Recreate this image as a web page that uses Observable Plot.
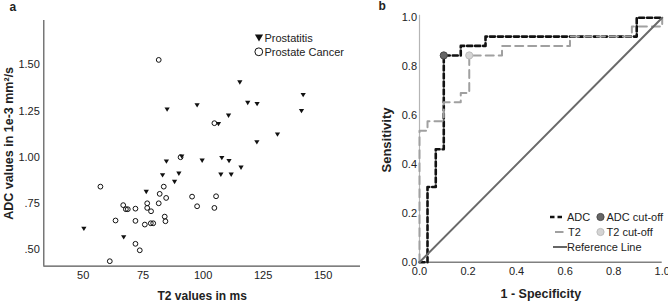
<!DOCTYPE html>
<html><head><meta charset="utf-8">
<script src="https://cdn.jsdelivr.net/npm/d3@7"></script>
<script src="https://cdn.jsdelivr.net/npm/@observablehq/plot@0.6"></script>
<style>
body{margin:0;background:#fff;}
#wrap{position:relative;width:668px;height:302px;overflow:hidden;font-family:"Liberation Sans",Arial,sans-serif;}
#wrap svg{position:absolute;top:0;overflow:visible;}
</style></head><body><div id="wrap"></div>
<script>
// ---------- Panel a: scatter ----------
const cancerT2  = [81.5,57.2,104.7,90.6,83.6,81.9,76.7,81.5,84.6,95.4,105.4,97.5,104.7,66.7,67.8,68.6,71.8,76.7,78.3,63.5,71.8,75.7,78.2,79.2,84.0,84.3,71.8,73.6,61.1];
const cancerADC = [1.526,0.841,1.184,1.000,0.841,0.802,0.751,0.751,0.780,0.787,0.789,0.735,0.726,0.741,0.719,0.719,0.722,0.726,0.708,0.658,0.656,0.636,0.643,0.643,0.679,0.654,0.532,0.497,0.438];
const prostatitisT2  = [115.3,141.7,85.0,97.5,118.6,122.5,110.6,141.0,106.4,131.0,122.4,91.1,99.6,107.8,110.8,84.7,115.8,83.1,89.9,107.4,111.7,88.1,76.3,50.3,66.9];
const prostatitisADC = [1.405,1.337,1.258,1.281,1.294,1.288,1.225,1.250,1.180,1.123,1.081,1.004,0.982,0.996,0.980,0.977,0.944,0.903,0.912,0.906,0.906,0.867,0.813,0.614,0.568];
const groupNames = ["Prostatitis","Prostate Cancer"];
const t2Domain = [33.6, 165.6];
const adcDomain = [0.411, 1.739];
const t2Ticks = [50,75,100,125,150];
const adcTicks = [0.5,0.75,1.0,1.25,1.5];
const adcTickLabels = [".50",".75","1.00","1.25","1.50"];

// ---------- Panel b: ROC ----------
const adcFPR = [0,0.033,0.033,0.067,0.067,0.1,0.1,0.17,0.17,0.272,0.272,0.895,0.895,1.0];
const adcTPR = [0,0,0.308,0.308,0.462,0.462,0.846,0.846,0.885,0.885,0.923,0.923,1.0,1.0];
const t2FPR = [0,0,0.033,0.033,0.1,0.1,0.17,0.17,0.205,0.205,0.34,0.34,0.62,0.62,0.875,0.875,1.0,1.0];
const t2TPR = [0,0.538,0.538,0.577,0.577,0.654,0.654,0.692,0.692,0.846,0.846,0.885,0.885,0.923,0.923,0.964,0.964,1.0];
const refFPR = [0,1];
const refTPR = [0,1];
const cutoffFPR = [0.1,0.205];
const cutoffTPR = [0.846,0.846];
const rocTicks = [0,0.2,0.4,0.6,0.8,1.0];
const rocLegend = ["ADC","T2","Reference Line","ADC cut-off","T2 cut-off"];

const FONT = "Liberation Sans, Arial, sans-serif";
const triDown = {draw(ctx, size){
  const s = Math.sqrt(size/Math.PI);
  ctx.moveTo(-s*1.05,-s*0.8); ctx.lineTo(s*1.05,-s*0.8); ctx.lineTo(0,s*0.95); ctx.closePath();
}};

const cancer = cancerT2.map((x,i)=>({t2:x, adc:cancerADC[i]}));
const prost = prostatitisT2.map((x,i)=>({t2:x, adc:prostatitisADC[i]}));

function legendA(){
  const g = d3.create("svg:g").attr("font-size",11).attr("fill","#222").attr("font-family",FONT).attr("text-anchor","start");
  g.append("path").attr("d", d3.symbol(triDown, Math.PI*3.9*3.9)()).attr("transform","translate(259,37.7)").attr("fill","#111");
  g.append("text").attr("x",264.5).attr("y",37.7).attr("dy","0.36em").text(groupNames[0]);
  g.append("circle").attr("cx",258.8).attr("cy",51.8).attr("r",3.9).attr("fill","none").attr("stroke","#111").attr("stroke-width",1);
  g.append("text").attr("x",264.5).attr("y",51.8).attr("dy","0.36em").text(groupNames[1]);
  return g.node();
}

const plotA = Plot.plot({
  width: 362, height: 302,
  marginLeft: 43.3, marginRight: 2, marginTop: 20, marginBottom: 36.3,
  style: {fontFamily: FONT, fontSize: "11px", color: "#222", background: "transparent", overflow: "visible"},
  x: {domain: t2Domain},
  y: {domain: adcDomain},
  marks: [
    Plot.axisX({ticks: t2Ticks, tickSize: 0, tickPadding: 5, label: null}),
    Plot.axisY({ticks: adcTicks, tickFormat: d => adcTickLabels[adcTicks.indexOf(d)], tickSize: 0, tickPadding: 4, label: null}),
    Plot.ruleX([t2Domain[0]], {stroke: "#555", strokeWidth: 1.2}),
    Plot.ruleY([adcDomain[0]], {stroke: "#555", strokeWidth: 1.2}),
    Plot.dot(prost, {x: "t2", y: "adc", symbol: triDown, r: 2.5, fill: "#111", stroke: "none"}),
    Plot.dot(cancer, {x: "t2", y: "adc", r: 2.4, fill: "none", stroke: "#111", strokeWidth: 1}),
    legendA,
    Plot.text(["T2 values in ms"], {frameAnchor: "bottom", dy: 29.5, textAnchor: "middle", lineAnchor: "middle", fontWeight: "bold", fontSize: 12, fill: "#222"}),
    Plot.text(["ADC values in 1e-3 mm²/s"], {frameAnchor: "left", dx: -35, rotate: -90, textAnchor: "middle", lineAnchor: "middle", fontWeight: "bold", fontSize: 12.5, fill: "#222"}),
    Plot.text(["a"], {frameAnchor: "top-left", dx: -31, dy: -13.5, textAnchor: "middle", lineAnchor: "middle", fontWeight: "bold", fontSize: 12, fill: "#222"})
  ]
});
plotA.style.left = "0px";

function legendB(){
  const ox = -340;
  const rows = [217, 232, 247];
  const g = d3.create("svg:g").attr("font-size",11).attr("fill","#222").attr("font-family",FONT).attr("text-anchor","start");
  g.append("line").attr("x1",550+ox).attr("x2",565+ox).attr("y1",rows[0]).attr("y2",rows[0]).attr("stroke","#111").attr("stroke-width",2.5).attr("stroke-dasharray","4.5,3");
  g.append("text").attr("x",567+ox).attr("y",rows[0]).attr("dy","0.36em").text(rocLegend[0]);
  g.append("line").attr("x1",555+ox).attr("x2",563.5+ox).attr("y1",rows[1]).attr("y2",rows[1]).attr("stroke","#a0a0a0").attr("stroke-width",2);
  g.append("text").attr("x",568+ox).attr("y",rows[1]).attr("dy","0.36em").text(rocLegend[1]);
  g.append("line").attr("x1",553+ox).attr("x2",567+ox).attr("y1",rows[2]).attr("y2",rows[2]).attr("stroke","#666").attr("stroke-width",2);
  g.append("text").attr("x",567+ox).attr("y",rows[2]).attr("dy","0.36em").text(rocLegend[2]);
  g.append("circle").attr("cx",600.5+ox).attr("cy",rows[0]).attr("r",3.6).attr("fill","#666").attr("stroke","#4a4a4a");
  g.append("text").attr("x",606.5+ox).attr("y",rows[0]).attr("dy","0.36em").text(rocLegend[3]);
  g.append("circle").attr("cx",600.5+ox).attr("cy",rows[1]).attr("r",3.6).attr("fill","#d4d4d4").attr("stroke","#bdbdbd");
  g.append("text").attr("x",606.5+ox).attr("y",rows[1]).attr("dy","0.36em").text(rocLegend[4]);
  return g.node();
}

const adcCurve = adcFPR.map((x,i)=>({x, y: adcTPR[i]}));
const t2Curve = t2FPR.map((x,i)=>({x, y: t2TPR[i]}));
const refCurve = refFPR.map((x,i)=>({x, y: refTPR[i]}));
const cutoffs = cutoffFPR.map((x,i)=>({x, y: cutoffTPR[i], name: rocLegend[3+i]}));

const plotB = Plot.plot({
  width: 328, height: 302,
  marginLeft: 79, marginRight: 6.3, marginTop: 17.3, marginBottom: 40.3,
  style: {fontFamily: FONT, fontSize: "11px", color: "#222", background: "transparent", overflow: "visible"},
  x: {domain: [0,1]},
  y: {domain: [0,1]},
  marks: [
    Plot.axisX({ticks: rocTicks, tickFormat: d3.format(".1f"), tickSize: 0, tickPadding: 5, label: null}),
    Plot.axisY({ticks: rocTicks, tickFormat: d3.format(".1f"), tickSize: 0, tickPadding: 2.5, label: null}),
    Plot.ruleX([0], {stroke: "#b5b5b5", strokeWidth: 1.2, insetTop: -2.5}),
    Plot.ruleY([0], {stroke: "#808080", strokeWidth: 1.5}),
    Plot.line(adcCurve, {x: "x", y: "y", stroke: "#111", strokeWidth: 2.6, strokeDasharray: "5,3", curve: "linear"}),
    Plot.line(t2Curve, {x: "x", y: "y", stroke: "#a0a0a0", strokeWidth: 2, strokeDasharray: "8,5", curve: "linear"}),
    Plot.line(refCurve, {x: "x", y: "y", stroke: "#6a6a6a", strokeWidth: 2}),
    Plot.dot(cutoffs, {x: "x", y: "y", r: 3.6, fill: d => d.name === rocLegend[3] ? "#666" : "#d4d4d4", stroke: d => d.name === rocLegend[3] ? "#4a4a4a" : "#bdbdbd", strokeWidth: 1}),
    legendB,
    Plot.text(["1 - Specificity"], {frameAnchor: "bottom", dy: 31.5, textAnchor: "middle", lineAnchor: "middle", fontWeight: "bold", fontSize: 12.5, fill: "#222"}),
    Plot.text(["Sensitivity"], {frameAnchor: "left", dx: -32.3, rotate: -90, textAnchor: "middle", lineAnchor: "middle", fontWeight: "bold", fontSize: 13, fill: "#222"}),
    Plot.text(["b"], {frameAnchor: "top-left", dx: -37.3, dy: -11.3, textAnchor: "middle", lineAnchor: "middle", fontWeight: "bold", fontSize: 12, fill: "#222"})
  ]
});
plotB.style.left = "340px";

const wrap = document.getElementById("wrap");
wrap.appendChild(plotA);
wrap.appendChild(plotB);
</script>
</body></html>
